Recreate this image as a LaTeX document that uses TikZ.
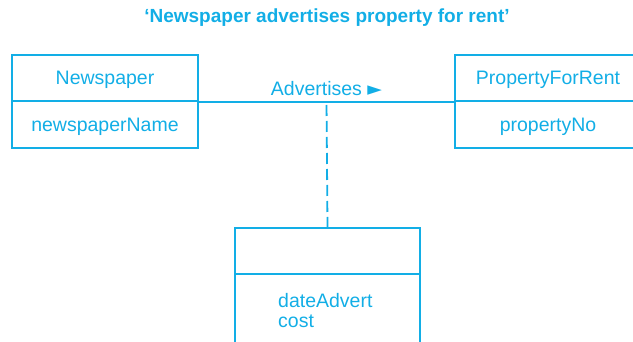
\documentclass[tikz,border=0pt]{standalone}
\usepackage{fontspec}
\setmainfont{Liberation Sans}
\newfontfamily\symbfont{DejaVu Sans}
\usepackage{xcolor}
\usepackage{tikz}
\usetikzlibrary{positioning}
\definecolor{umlcyan}{HTML}{12AEE6}

\begin{document}
\begin{tikzpicture}[
    x=1pt, y=-1pt,
    compart/.style={
        rectangle, draw=umlcyan, line width=1.8pt,
        minimum width=186pt, minimum height=46.5pt,
        inner sep=0pt, text=umlcyan, text depth=0pt,
        font=\fontsize{19.5}{20}\selectfont
    },
    assoc/.style={draw=umlcyan, line width=1.5pt},
    dashlink/.style={draw=umlcyan, line width=1.8pt, dash pattern=on 11pt off 5pt},
    lbl/.style={text=umlcyan, font=\fontsize{19.5}{20}\selectfont},
    titletext/.style={text=umlcyan, font=\fontsize{19}{22}\selectfont\bfseries},
]
\useasboundingbox (0,0) rectangle (633,342);

% Titolo
\node[titletext] (title) at (327,18) {‘Newspaper advertises property for rent’};

% Classi
\node[compart] (nhead) at (105,78)    {Newspaper};
\node[compart] (nattr) at (105,124.5) {newspaperName};
\node[compart] (phead) at (548,78)    {PropertyForRent};
\node[compart] (pattr) at (548,124.5) {propertyNo};

% Classe associativa
\node[compart, minimum width=185pt] (ahead) at (327.5,251) {};
\node[compart, minimum width=185pt, minimum height=72pt] (aattr) at (327.5,310) {};
\node[lbl, anchor=west, align=left, inner sep=0pt] (attrs) at (278,310.5)
    {dateAdvert\\cost};

% Associazione
\draw[assoc] (nhead.south east) --
    node[lbl, above=2pt]{Advertises {\symbfont\fontsize{19}{20}\selectfont ►}}
    (phead.south west);

% Collegamento tratteggiato
\coordinate (amid) at (326.5,101);
\draw[dashlink, shorten <=4pt] (amid) -- (ahead.north);

\end{tikzpicture}
\end{document}
